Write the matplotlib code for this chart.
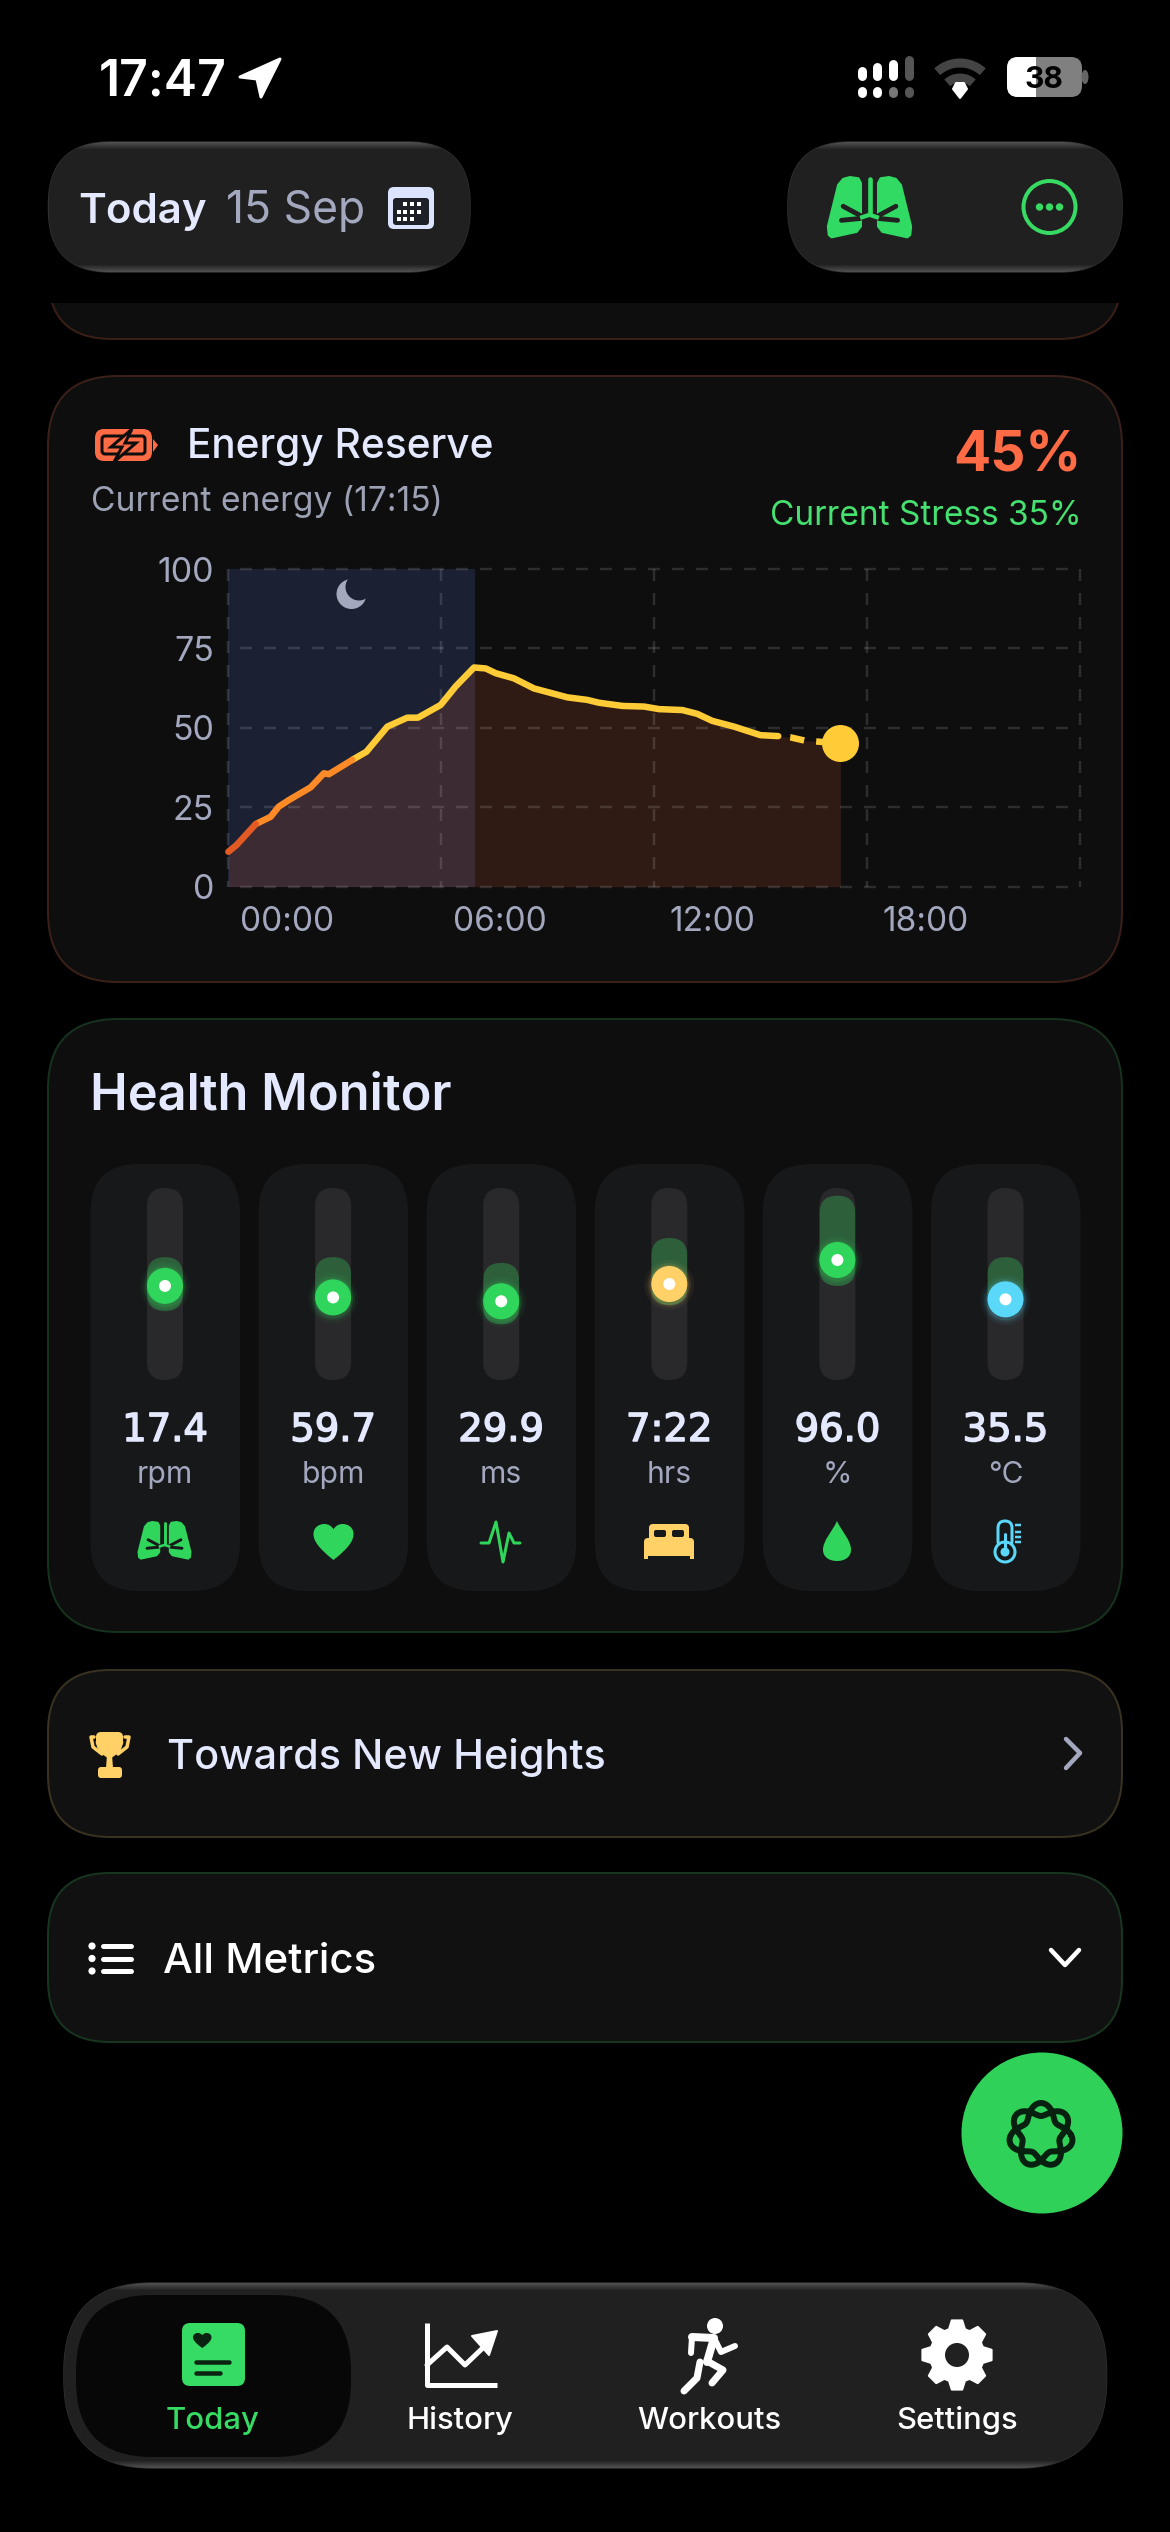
import numpy as np
import matplotlib
matplotlib.use('Agg')
import matplotlib.pyplot as plt
import matplotlib.patheffects as pe
from matplotlib.patches import FancyBboxPatch, Circle, Ellipse, Polygon, PathPatch, Rectangle
from matplotlib.path import Path

plt.rcParams['font.family'] = ['Inter', 'DejaVu Sans']

# energy reserve chart, hours from midnight and percent
energy_hours = [-1.64, -1.41, -0.87, -0.45, -0.22, 0.07, 0.68, 1.05, 1.19, 1.85, 2.25, 2.84, 3.40, 3.70,
                4.34, 4.76, 5.28, 5.61, 5.89, 6.40, 6.97, 7.91, 8.47, 8.80, 9.46, 10.07, 10.49, 11.15,
                11.57, 11.99, 12.60, 13.35, 13.85]
energy_values = [11.0, 13.1, 19.7, 22.0, 25.2, 27.3, 31.3, 35.7, 35.4, 39.9, 42.5, 50.4, 53.2, 53.2,
                 57.2, 63.0, 69.0, 68.7, 67.2, 65.6, 62.4, 59.6, 58.8, 57.9, 56.9, 56.7, 55.9, 55.6,
                 54.4, 52.2, 50.4, 47.7, 47.4]
forecast_hours = [13.85, 14.20, 14.59, 15.60]
forecast_values = [47.4, 47.0, 46.0, 45.1]
night_end = 5.31
x_ticks = [0, 6, 12, 18]
x_tick_labels = ['00:00', '06:00', '12:00', '18:00']
y_ticks = [0, 25, 50, 75, 100]
grid_hours = [-1.65, 4.35, 10.35, 16.35, 22.35]

# health monitor columns
metric_values = ['17.4', '59.7', '29.9', '7:22', '96.0', '35.5']
metric_units = ['rpm', 'bpm', 'ms', 'hrs', '%', '°C']
range_top = [0.36, 0.36, 0.39, 0.26, 0.04, 0.36]
range_bottom = [0.64, 0.66, 0.71, 0.61, 0.51, 0.66]
level = [0.51, 0.57, 0.59, 0.50, 0.375, 0.58]

GREEN = '#30D65B'
ORANGE = '#FF6B45'
YELLOW = '#FFCB37'
AMBER = '#FFD166'
CYAN = '#5AD8FA'
CARD = '#0E0E0F'
WHITE = '#E5E9FF'
GREY = '#A3A8BF'
PX = 0.72

fig = plt.figure(figsize=(11.7, 25.32), dpi=100, facecolor='black')
ax = fig.add_axes([0, 0, 1, 1])
ax.set_facecolor('black')
ax.axis('off')


def txt(x, y, s, size, color, weight='normal', ha='left', z=5):
    return ax.text(x, y, s, fontsize=size * PX, color=color, fontweight=weight, ha=ha, va='baseline', zorder=z)


def box(x0, y0, x1, y1, r, fc, ec='none', lw=0, z=2):
    p = FancyBboxPatch((x0, y0), x1 - x0, y1 - y0, boxstyle='round,pad=0,rounding_size=%s' % r,
                       fc=fc, ec=ec, lw=lw * PX, zorder=z)
    ax.add_patch(p)
    return p


def glass(x0, y0, x1, y1, r):
    p = box(x0, y0, x1, y1, r, '#212121', '#303030', 1.5)
    h = int(y1 - y0)
    g = np.full((h, 1), 0.13)
    edge = np.linspace(0.31, 0.13, 8)
    g[:8, 0] = edge
    g[-8:, 0] = edge[::-1]
    im = ax.imshow(g, extent=(x0, x1, y1, y0), aspect='auto', cmap='gray', vmin=0, vmax=1, zorder=2.5)
    im.set_clip_path(p)


def stroke(pts, color, lw, z=6, cap='round'):
    xs, ys = zip(*pts)
    ax.plot(xs, ys, color=color, lw=lw * PX, solid_capstyle=cap, solid_joinstyle='round', zorder=z)


def fill(pts, color, z=6, soft=0):
    ax.add_patch(Polygon(pts, closed=True, fc=color, ec=color if soft else 'none', lw=soft * PX,
                         joinstyle='round', zorder=z))


def curve(x, y, w, h, verts, codes, color, z=6):
    v = [(x + a * w, y + b * h) for a, b in verts]
    ax.add_patch(PathPatch(Path(v, codes), fc=color, ec='none', zorder=z))


def heart(x, y, w, h, color, z=6):
    v = [(.5, 1), (.1, .65), (0, .45), (0, .28), (0, .1), (.13, 0), (.27, 0), (.37, 0), (.45, .05), (.5, .15),
         (.55, .05), (.63, 0), (.73, 0), (.87, 0), (1, .1), (1, .28), (1, .45), (.9, .65), (.5, 1)]
    curve(x, y, w, h, v, [Path.MOVETO] + [Path.CURVE4] * 18, color, z)


def lungs(x, y, w, h, color, bg):
    left = [(.40, .10), (.37, .02), (.27, 0), (.19, .03), (.13, .13), (.01, .81), (.02, .95), (.055, .99),
            (.35, .90), (.40, .81)]
    for flip in (False, True):
        mir = (lambda a: 1 - a) if flip else (lambda a: a)
        fill([(x + mir(a) * w, y + b * h) for a, b in left], color, soft=2)
        stroke([(x + mir(.19) * w, y + .48 * h), (x + mir(.39) * w, y + .63 * h)], bg, h * .08, 7)
        stroke([(x + mir(.17) * w, y + .71 * h), (x + mir(.39) * w, y + .68 * h)], bg, h * .08, 7)
    stroke([(x + .5 * w, y + .03 * h), (x + .5 * w, y + .6 * h)], color, w * .055, 8)
    stroke([(x + .39 * w, y + .67 * h), (x + .5 * w, y + .62 * h), (x + .61 * w, y + .67 * h)], color, h * .07, 8, cap='butt')


# status bar
txt(99, 96, '17:47', 50, 'white', 'semibold')
fill([(280, 59), (240, 77), (257, 79), (261, 97)], 'white', soft=3)
sig_x = [862, 877, 893, 909]
sig_tops = [67, 63, 60, 56]
sig_cols = ['white', 'white', 'white', '#555555']
low_cols = ['white', 'white', '#777777', '#555555']
for sx, st, c, lc in zip(sig_x, sig_tops, sig_cols, low_cols):
    stroke([(sx, st + 4), (sx, 76)], c, 9)
    stroke([(sx, 91), (sx, 93)], lc, 9)
for r in (34, 19):
    th = np.radians(np.linspace(-42, 42, 30))
    stroke(list(zip(960 + r * np.sin(th), 97 - r * np.cos(th))), '#444444', 9, cap='butt')
fill([(960, 98), (953, 89), (956, 83), (964, 83), (967, 89)], 'white', soft=2)
bat = box(1007, 57, 1082, 97, 11, '#808080', z=3)
white_part = Rectangle((1007, 57), 29, 40, fc='white', zorder=3.5)
ax.add_patch(white_part)
white_part.set_clip_path(bat)
ax.add_patch(Ellipse((1085, 77), 7, 14, fc='#666666', zorder=3))
txt(1044, 88, '38', 30, 'black', 'bold', 'center')

# top pills
glass(48.5, 142, 470, 272, 62)
txt(78, 223, 'Today', 42, WHITE, 'semibold')
txt(226, 223, '15 Sep', 44.5, GREY)
box(388, 187, 434, 229, 6, '#DCE3FF', z=4)
box(393, 198, 429, 225, 3, '#1E2028', z=5)
for row, cols in zip((204, 212, 219), ((405, 412, 419), (399, 405, 412, 419), (399, 405, 412))):
    for c in cols:
        ax.add_patch(Rectangle((c - 1.7, row - 1.7), 3.4, 3.4, fc='white', zorder=6))
glass(788, 142, 1122, 272, 62)
lungs(827, 177, 85, 61, '#31DA62', '#212121')
ax.add_patch(Circle((1049.5, 207), 26, fc='none', ec='#37DB63', lw=4 * PX, zorder=6))
for dx in (-10, 0, 10):
    ax.add_patch(Circle((1049.5 + dx, 207), 3.7, fc='#37DB63', zorder=6))

# card scrolled under the header
prev = box(48, 150, 1122, 339, 64, CARD, '#3A1F16', 2)
prev.set_clip_path(Rectangle((0, 303), 1170, 100, transform=ax.transData))

# energy card
box(48, 376, 1122, 982, 70, CARD, '#3A2018', 2)
box(95, 429, 152, 461, 9, ORANGE, z=4)
box(102, 436, 145, 454, 3, ORANGE, CARD, 3, z=5)
fill([(153, 439), (158, 445), (153, 452)], ORANGE)
ax.add_patch(Polygon([(132, 429), (111, 447), (122, 447), (114, 462), (136, 443), (125, 443)], closed=True,
                     fc=ORANGE, ec=CARD, lw=3 * PX, zorder=7))
txt(187, 458, 'Energy Reserve', 40.6, WHITE, 'medium')
txt(91, 511, 'Current energy (17:15)', 33.6, '#9CA1B4')
txt(1081, 472, '45%', 55, ORANGE, 'bold', 'right')
txt(1082, 525, 'Current Stress 35%', 33.4, '#45E070', 'normal', 'right')

chart = fig.add_axes([228 / 1170, 1 - 886.7 / 2532, 852 / 1170, 317.7 / 2532])
chart.patch.set_alpha(0)
for s in chart.spines.values():
    s.set_visible(False)
chart.set_xticks(x_ticks)
chart.set_xticklabels(x_tick_labels)
chart.set_yticks(y_ticks)
chart.set_xlim(grid_hours[0], grid_hours[-1])
chart.set_ylim(0, 100)
chart.tick_params(axis='x', length=0, pad=14, labelsize=33.5 * PX, labelcolor=GREY)
chart.tick_params(axis='y', length=0, pad=10, labelsize=34 * PX, labelcolor=GREY)
chart.axvspan(grid_hours[0], night_end, color='#1B2133', lw=0, zorder=1)
chart.fill_between(energy_hours + forecast_hours[1:], energy_values + forecast_values[1:], 0,
                   color='#FF6838', alpha=0.145, lw=0, zorder=2)
grid_lw = 2.5 * PX
for v in y_ticks:
    chart.plot([grid_hours[0], grid_hours[-1]], [v, v], color='white', alpha=0.13, lw=grid_lw, clip_on=False,
               ls=(4.8, (4.8, 4.8)), dash_capstyle='butt', zorder=3)
for h in grid_hours:
    chart.plot([h, h], [100, 0], color='white', alpha=0.13, lw=grid_lw, clip_on=False,
               ls=(0, (4.8, 4.8)), dash_capstyle='butt', zorder=3)

vals = np.array(energy_values)
red_end = np.where(vals < 20)[0][-1]
orange_end = np.where(vals < 40)[0][-1]
line_kw = dict(lw=6.5 * PX, solid_capstyle='round', solid_joinstyle='round', clip_on=False)
chart.plot(energy_hours[orange_end:], energy_values[orange_end:], color=YELLOW, zorder=4, **line_kw)
chart.plot(energy_hours[red_end:orange_end + 1], energy_values[red_end:orange_end + 1], color='#FF8A26', zorder=5, **line_kw)
chart.plot(energy_hours[:red_end + 1], energy_values[:red_end + 1], color='#E45A24', zorder=6, **line_kw)
chart.plot(forecast_hours, forecast_values, color=YELLOW, lw=6.5 * PX, ls=(2.2, (2.2, 1.85)), dash_capstyle='butt', zorder=4)
chart.plot(forecast_hours[-1], forecast_values[-1], 'o', color=YELLOW, ms=37 * PX, mew=0, clip_on=False, zorder=7)
chart.add_patch(Circle((351.5, 594), 15, fc=GREY, transform=ax.transData, clip_on=False, zorder=5))
chart.add_patch(Circle((359, 587), 13.5, fc='#1B2133', transform=ax.transData, clip_on=False, zorder=5))

# health monitor
box(48, 1019, 1122, 1632, 70, CARD, '#16321D', 2)
txt(90, 1109, 'Health Monitor', 50.5, WHITE, 'semibold')
dot_colors = [GREEN, GREEN, GREEN, AMBER, GREEN, CYAN]
track_top, track_bottom = 1188, 1380
for i, (val, unit) in enumerate(zip(metric_values, metric_units)):
    x0 = 90.5 + i * 168.1
    cx = x0 + 74.5
    box(x0, 1164, x0 + 149.5, 1591, 48, '#17181A')
    track = box(cx - 18, track_top, cx + 18, track_bottom, 18, '#29292B', z=3)
    span = track_bottom - track_top
    y_a = track_top + range_top[i] * span
    y_b = track_top + range_bottom[i] * span
    rng = box(cx - 18, y_a, cx + 18, y_b, 18, '#2D5F3B', z=3.2)
    rng.set_clip_path(track)
    y_d = track_top + level[i] * span
    for grow, alpha in ((7, 0.05), (4, 0.09), (2, 0.14)):
        ax.add_patch(Circle((cx, y_d + 1), 18 + grow, fc=dot_colors[i], alpha=alpha, zorder=3.5))
    ax.add_patch(Circle((cx, y_d), 18, fc=dot_colors[i], zorder=4))
    ax.add_patch(Circle((cx, y_d), 6, fc='white', zorder=5))
    t = ax.text(cx, 1441, val, fontsize=38.5 * PX, color=WHITE, family='DejaVu Sans', ha='center', va='baseline', zorder=5)
    t.set_path_effects([pe.withStroke(linewidth=1.1, foreground=WHITE)])
    txt(cx, 1483, unit, 30, GREY, 'normal', 'center')

lungs(138, 1522, 53, 37, GREEN, '#17181A')
heart(313.5, 1524, 40, 36, GREEN)
stroke([(481, 1543), (489, 1543), (496, 1522), (503, 1562), (509, 1533), (514, 1543), (520, 1543)], GREEN, 3)
# bed
box(649, 1524, 689, 1542, 4, AMBER, z=6)
box(654, 1530, 666, 1537, 2, '#17181A', z=7)
box(672, 1530, 684, 1537, 2, '#17181A', z=7)
box(644, 1538, 694, 1556, 4, AMBER, z=8)
ax.add_patch(Rectangle((644, 1553), 4, 6, fc=AMBER, zorder=8))
ax.add_patch(Rectangle((690, 1553), 4, 6, fc=AMBER, zorder=8))
# drop
drop = [(.5, 0), (.32, .28), (0, .48), (0, .72), (0, .9), (.22, 1), (.5, 1), (.78, 1), (1, .9), (1, .72), (1, .48), (.68, .28), (.5, 0)]
curve(823, 1521, 28, 40, drop, [Path.MOVETO] + [Path.CURVE4] * 12, GREEN)
# thermometer
box(998, 1521, 1012, 1548, 7, 'none', CYAN, 3, z=6)
ax.add_patch(Circle((1005, 1552), 10, fc='#17181A', ec=CYAN, lw=3 * PX, zorder=7))
ax.add_patch(Circle((1005, 1552), 4.5, fc=CYAN, zorder=8))
ax.add_patch(Rectangle((1001, 1544), 8, 4, fc='#17181A', zorder=8))
stroke([(1005, 1534), (1005, 1550)], CYAN, 3, 9)
for ty in (1525, 1532, 1537, 1542):
    stroke([(1015, ty), (1021, ty)], CYAN, 2.5, cap='butt')

# towards new heights
box(48, 1670, 1122, 1837, 62, '#111112', '#3A3220', 2)
box(96, 1732, 123, 1746, 5, AMBER)
fill([(96, 1742), (123, 1742), (120, 1751), (112, 1757), (107, 1757), (99, 1751)], AMBER, soft=1)
stroke([(94, 1737), (91, 1737), (93, 1747), (102, 1754)], AMBER, 3.5)
stroke([(125, 1737), (129, 1737), (127, 1747), (118, 1754)], AMBER, 3.5)
fill([(107, 1755), (112, 1755), (113, 1768), (106, 1768)], AMBER)
box(98, 1767, 122, 1778, 3, AMBER)
txt(167, 1769, 'Towards New Heights', 41.4, WHITE, 'medium')
stroke([(1066, 1739), (1080, 1753), (1066, 1768)], GREY, 4.5)

# all metrics
box(48, 1873, 1122, 2042, 62, '#111112', '#17351F', 2)
for ly in (1946, 1958.5, 1971):
    ax.add_patch(Circle((92, ly), 3.6, fc='white', zorder=6))
    stroke([(103, ly), (131, ly)], 'white', 5)
txt(163, 1973, 'All Metrics', 42, 'white', 'medium')
stroke([(1051, 1950), (1065, 1965), (1079, 1950)], 'white', 4.5)

# action button
ax.add_patch(Circle((1042, 2133), 80.5, fc='#2FD158', zorder=4))
t = np.linspace(0, 4 * np.pi, 500)
r = 25.5 + 6.5 * np.cos(3.5 * (t + np.pi / 2))
stroke(list(zip(1041 + r * np.cos(t), 2135 + r * np.sin(t))), '#07200F', 6, 5)

# tab bar
glass(64, 2283, 1106.5, 2468, 88)
box(76, 2295, 351, 2457, 76, '#070707', z=3)
box(182, 2323, 245, 2386, 8, '#36DB63', z=5)
heart(193, 2333, 18.5, 15, '#0B2412')
stroke([(196, 2362), (229, 2362)], '#0B2412', 4.5)
stroke([(196, 2373), (220, 2373)], '#0B2412', 4.5)
txt(213, 2429, 'Today', 31, '#36DB63', 'medium', 'center')
stroke([(427, 2323), (427, 2385), (497, 2385)], 'white', 5, cap='butt')
stroke([(427, 2365), (447, 2347), (465, 2365), (488, 2343)], 'white', 5)
fill([(497, 2331), (472, 2336), (489, 2355)], 'white', 7, soft=2)
txt(460, 2429, 'History', 31, 'white', 'medium', 'center')
ax.add_patch(Ellipse((715, 2326), 16, 16, fc='white', zorder=6))
stroke([(692, 2337), (714, 2338), (707, 2362)], 'white', 8)
stroke([(692, 2337), (691, 2353)], 'white', 6)
stroke([(714, 2338), (721, 2352), (735, 2346)], 'white', 6)
stroke([(707, 2361), (723, 2370), (712, 2383)], 'white', 7)
stroke([(700, 2362), (697, 2378), (684, 2391)], 'white', 7)
txt(709, 2429, 'Workouts', 31, 'white', 'medium', 'center')
th = np.linspace(0, 2 * np.pi, 8, endpoint=False)
gear = []
for a in th:
    for da, r in ((-0.30, 27), (-0.15, 35), (0.15, 35), (0.30, 27)):
        gear.append((957 + r * np.sin(a + da), 2355 + r * np.cos(a + da)))
fill(gear, 'white', soft=2)
ax.add_patch(Circle((957, 2355), 12, fc='#212121', zorder=7))
txt(957, 2429, 'Settings', 31, 'white', 'medium', 'center')

ax.set_xlim(0, 1170)
ax.set_ylim(2532, 0)
fig.savefig('out.png', dpi=100, facecolor='black')
